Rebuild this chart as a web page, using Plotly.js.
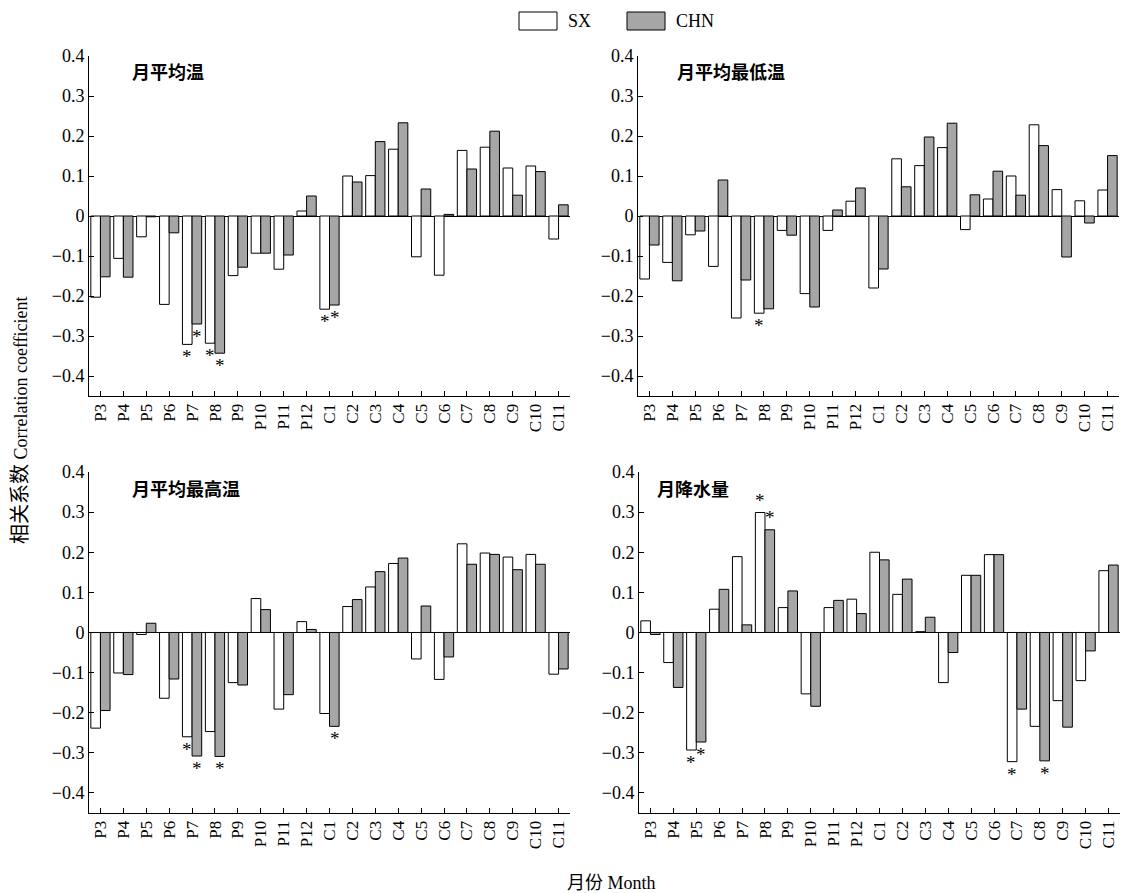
<!DOCTYPE html>
<html>
<head>
<meta charset="utf-8">
<script src="https://cdn.plot.ly/plotly-3.0.1.min.js"></script>
<style>html,body{margin:0;padding:0;background:#fff;}#chart{width:1121px;height:893px;}</style>
</head>
<body>
<div id="chart"></div>
<script>
const categories = ['P3','P4','P5','P6','P7','P8','P9','P10','P11','P12','C1','C2','C3','C4','C5','C6','C7','C8','C9','C10','C11'];

const panelTitles = ['月平均温','月平均最低温','月平均最高温','月降水量'];
const seriesNames = ['SX','CHN'];

const tempSX  = [-0.203,-0.106,-0.052,-0.221,-0.321,-0.318,-0.149,-0.093,-0.133,0.0125,-0.233,0.100,0.101,0.167,-0.102,-0.148,0.164,0.172,0.120,0.125,-0.0575];
const tempCHN = [-0.152,-0.153,-0.002,-0.042,-0.270,-0.343,-0.128,-0.093,-0.0975,0.050,-0.2225,0.085,0.186,0.233,0.0675,0.004,0.1175,0.212,0.052,0.111,0.028];

const minSX  = [-0.1575,-0.116,-0.047,-0.126,-0.255,-0.243,-0.036,-0.194,-0.036,0.037,-0.180,0.143,0.126,0.171,-0.034,0.0425,0.100,0.228,0.066,0.038,0.065];
const minCHN = [-0.0725,-0.162,-0.0375,0.090,-0.160,-0.232,-0.048,-0.2275,0.015,0.070,-0.1325,0.073,0.1975,0.232,0.053,0.112,0.052,0.176,-0.1025,-0.0175,0.151];

const maxSX  = [-0.2385,-0.101,-0.005,-0.164,-0.260,-0.247,-0.125,0.0845,-0.191,0.027,-0.202,0.0646,0.1135,0.172,-0.066,-0.117,0.221,0.198,0.188,0.1946,-0.104];
const maxCHN = [-0.1946,-0.105,0.023,-0.116,-0.308,-0.309,-0.131,0.057,-0.155,0.0075,-0.234,0.082,0.1516,0.1855,0.066,-0.061,0.170,0.1946,0.1565,0.170,-0.091];

const precSX  = [0.029,-0.075,-0.293,0.058,0.189,0.299,0.062,-0.153,0.062,0.083,0.200,0.095,0.002,-0.125,0.1425,0.194,-0.322,-0.234,-0.170,-0.120,0.154];
const precCHN = [-0.005,-0.137,-0.273,0.1075,0.019,0.256,0.1035,-0.184,0.080,0.047,0.181,0.133,0.038,-0.050,0.1425,0.194,-0.191,-0.320,-0.236,-0.046,0.168];

// significance markers (*)
const tempSigSX  = ['P7','P8','C1'];
const tempSigCHN = ['P7','P8','C1'];
const minSigSX   = ['P8'];
const minSigCHN  = [];
const maxSigSX   = ['P7'];
const maxSigCHN  = ['P7','P8','C1'];
const precSigSX  = ['P5','P8','C7'];
const precSigCHN = ['P5','P8','C8'];

const panels = [
  {sx: tempSX, chn: tempCHN, sigSX: tempSigSX, sigCHN: tempSigCHN},
  {sx: minSX,  chn: minCHN,  sigSX: minSigSX,  sigCHN: minSigCHN},
  {sx: maxSX,  chn: maxCHN,  sigSX: maxSigSX,  sigCHN: maxSigCHN},
  {sx: precSX, chn: precCHN, sigSX: precSigSX, sigCHN: precSigCHN}
];

const W = 1121, H = 893;
const xDom = [[89/W, 570/W], [638/W, 1119/W], [89/W, 570/W], [639/W, 1120/W]];
const yDom = [[1-396/H, 1-56/H], [1-396/H, 1-56/H], [1-813/H, 1-472/H], [1-813/H, 1-472/H]];
const titlePos = [[130, 71], [675, 71], [130, 488], [655, 488]];

const serif = 'Liberation Serif, Times New Roman, serif';
const cjk = 'Noto Sans CJK SC, sans-serif';
const grayFill = '#a6a6a6';

const traces = [];
const annotations = [];
const layout = {
  width: W, height: H,
  margin: {l: 0, r: 0, t: 0, b: 0},
  paper_bgcolor: '#fff', plot_bgcolor: 'rgba(0,0,0,0)',
  barmode: 'group', bargap: 0.16, bargroupgap: 0,
  showlegend: false,
  font: {family: serif, color: '#000', size: 17},
  shapes: [],
  annotations: annotations
};

panels.forEach((p, i) => {
  const n = i + 1;
  const xa = 'x' + (n === 1 ? '' : n), ya = 'y' + (n === 1 ? '' : n);
  traces.push({
    type: 'bar', x: categories, y: p.sx, name: seriesNames[0], xaxis: xa, yaxis: ya,
    marker: {color: '#ffffff', line: {color: '#000', width: 1}}
  });
  traces.push({
    type: 'bar', x: categories, y: p.chn, name: seriesNames[1], xaxis: xa, yaxis: ya,
    marker: {color: grayFill, line: {color: '#000', width: 1}}
  });
  const xKey = 'xaxis' + (n === 1 ? '' : n), yKey = 'yaxis' + (n === 1 ? '' : n);
  layout[xKey] = {
    domain: xDom[i], anchor: ya, type: 'category', range: [-0.5, 20.5],
    showline: true, linecolor: '#000', linewidth: 1, showgrid: false, zeroline: false,
    ticks: 'inside', ticklen: 5, tickcolor: '#000', tickangle: -90,
    tickfont: {family: serif, size: 17, color: '#000'}, fixedrange: true, automargin: false
  };
  layout[yKey] = {
    domain: yDom[i], anchor: xa, range: [-0.45, 0.4], tick0: 0, dtick: 0.1,
    showline: true, linecolor: '#000', linewidth: 1, showgrid: false,
    zeroline: true, zerolinecolor: '#000', zerolinewidth: 1,
    ticks: 'inside', ticklen: 5, tickcolor: '#000',
    tickfont: {family: serif, size: 18, color: '#000'}, fixedrange: true, automargin: false
  };
  annotations.push({
    xref: 'paper', yref: 'paper', x: titlePos[i][0]/W, y: 1 - titlePos[i][1]/H,
    xanchor: 'left', yanchor: 'middle', showarrow: false,
    text: panelTitles[i], font: {family: cjk, size: 18, color: '#000', weight: 'bold'}
  });
  const addSig = (list, vals, shift) => {
    list.forEach(c => {
      const v = vals[categories.indexOf(c)];
      annotations.push({
        xref: xa, yref: ya, x: c, y: v, xshift: shift,
        yanchor: v < 0 ? 'top' : 'bottom', yshift: 0,
        showarrow: false, text: '*', font: {family: serif, size: 19, color: '#000'}
      });
    });
  };
  addSig(p.sigSX, p.sx, -5);
  addSig(p.sigCHN, p.chn, 5);
});

// legend
layout.shapes.push(
  {type: 'rect', xref: 'paper', yref: 'paper', x0: 519/W, x1: 557/W, y0: 1-30/H, y1: 1-12/H,
   line: {color: '#000', width: 1}, fillcolor: '#fff'},
  {type: 'rect', xref: 'paper', yref: 'paper', x0: 627/W, x1: 665/W, y0: 1-30/H, y1: 1-12/H,
   line: {color: '#000', width: 1}, fillcolor: grayFill}
);
annotations.push(
  {xref: 'paper', yref: 'paper', x: 566/W, y: 1-21/H, xanchor: 'left', yanchor: 'middle',
   showarrow: false, text: seriesNames[0], font: {family: serif, size: 18, color: '#000'}},
  {xref: 'paper', yref: 'paper', x: 674/W, y: 1-21/H, xanchor: 'left', yanchor: 'middle',
   showarrow: false, text: seriesNames[1], font: {family: serif, size: 18, color: '#000'}}
);
// axis titles
annotations.push(
  {xref: 'paper', yref: 'paper', x: 18/W, y: 1-420/H, xanchor: 'center', yanchor: 'middle',
   textangle: -90, showarrow: false,
   text: '<span style="font-family:Noto Sans CJK SC;font-size:20px">相关系数</span> Correlation coefficient',
   font: {family: serif, size: 18, color: '#000'}},
  {xref: 'paper', yref: 'paper', x: 611/W, y: 1-881/H, xanchor: 'center', yanchor: 'middle',
   showarrow: false,
   text: '<span style="font-family:Noto Sans CJK SC">月份</span> Month',
   font: {family: serif, size: 18, color: '#000'}}
);

Plotly.newPlot('chart', traces, layout, {staticPlot: true, displayModeBar: false});
</script>
</body>
</html>
